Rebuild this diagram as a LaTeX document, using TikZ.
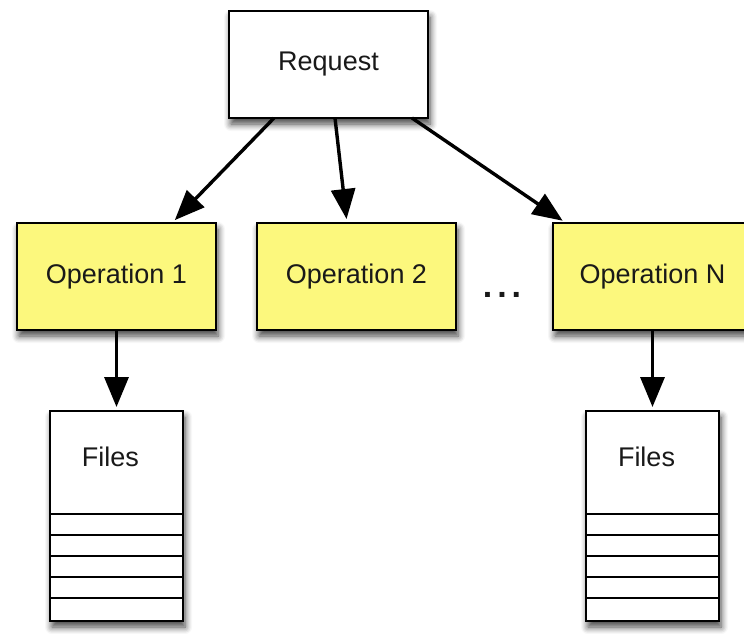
\documentclass[tikz,border=0pt]{standalone}
\usepackage{fontspec}
\setmainfont{Liberation Sans}
\usetikzlibrary{arrows.meta,shadows.blur}
\definecolor{opyellow}{RGB}{252,248,125}
\tikzset{
  soft shadow/.style={blur shadow={shadow xshift=2pt, shadow yshift=-6pt,
      shadow blur radius=7pt, shadow blur steps=6, shadow opacity=75}},
  box/.style={draw, line width=2pt, outer sep=0pt, inner sep=0pt,
      minimum width=199pt, minimum height=107pt, soft shadow},
  opbox/.style={box, fill=opyellow},
  filebox/.style={draw, fill=white, line width=2pt, outer sep=0pt,
      minimum width=133pt, minimum height=210pt, soft shadow},
  link/.style={->, line width=3.4pt, shorten >=4pt}
}
\begin{document}
\begin{tikzpicture}[x=1pt, y=-1pt, >={Triangle[length=30pt,width=24pt]},
  font=\fontsize{27}{32}\selectfont, text=black!90]
\useasboundingbox (0,0) rectangle (744,633);

\node[box, fill=white] (req) at (328.5,64.5) {Request};

\node[opbox] (op1) at (116.5,276.5) {Operation 1};
\node[opbox] (op2) at (356.5,276.5) {Operation 2};
\node[opbox] (opN) at (652.5,276.5) {Operation N};
\node[anchor=base] (dots) at (502,297)
  {\fontsize{34}{40}\selectfont\bfseries .\hspace{5pt}.\hspace{5pt}.};

\node[filebox] (files1) at (116.5,516) {};
\node[filebox] (filesN) at (652.5,516) {};
\node (files1txt) at ([xshift=-6pt,yshift=-46pt]files1.north) {Files};
\node (filesNtxt) at ([xshift=-6pt,yshift=-46pt]filesN.north) {Files};

\foreach \f in {files1,filesN}
{
    \foreach \k in {1,...,5}
        \draw[line width=1.6pt] ([yshift=\k*21pt+2pt]\f.south west)--([yshift=\k*21pt+2pt]\f.south east);
}

\draw[link] ([xshift=-54.5pt]req.south)--([xshift=55.5pt]op1.north);
\draw[link] ([xshift=6.5pt]req.south)--([xshift=-9.5pt]op2.north);
\draw[link] ([xshift=83.5pt]req.south)--([xshift=-86.5pt]opN.north);

\draw[link] (op1)--(files1);
\draw[link] (opN)--(filesN);

\end{tikzpicture}
\end{document}
